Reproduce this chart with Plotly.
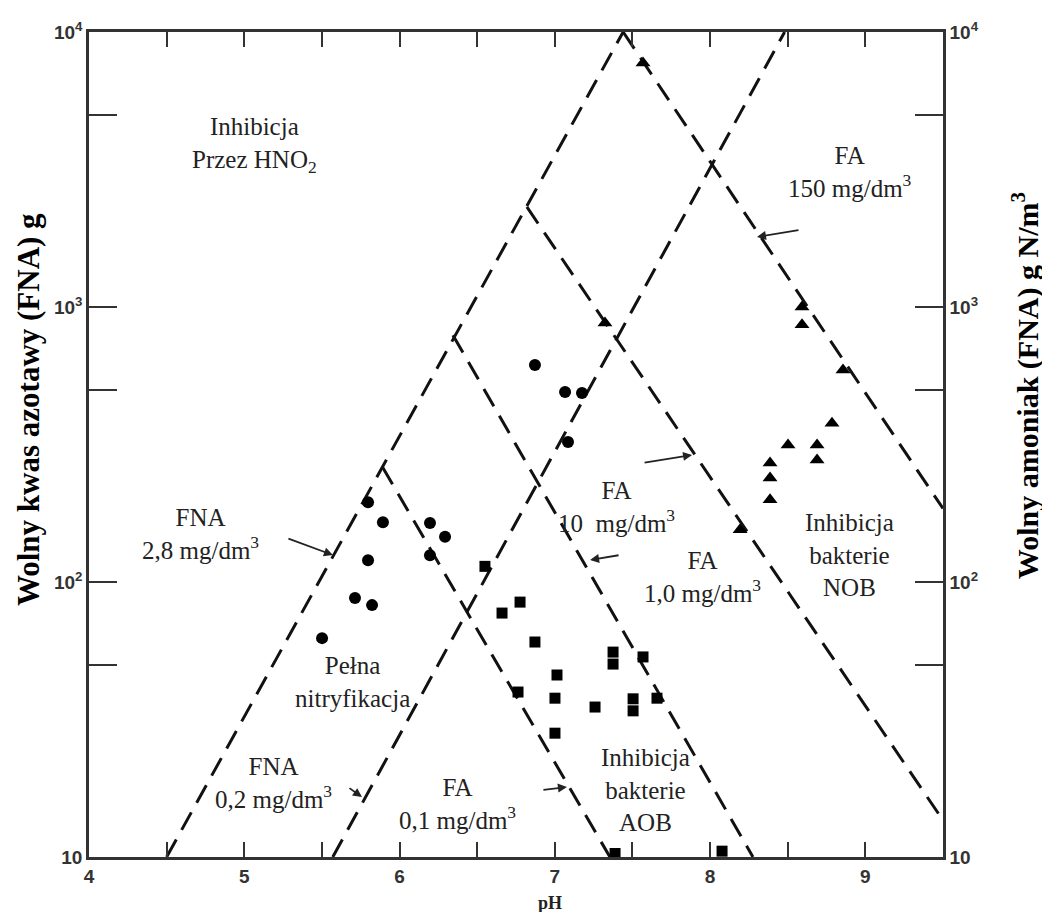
import plotly.graph_objects as go

# ---- data ----
# constant FNA lines (pH, value)
fna28_ph = [4.50, 7.44]
fna28_val = [10, 10000]
fna02_ph = [5.57, 8.48]
fna02_val = [10, 10000]
# constant FA lines
fa01_ph = [5.89, 7.355]
fa01_val = [262, 10]
fa1_ph = [6.344, 8.276]
fa1_val = [790, 10]
fa10_ph = [6.82, 9.5]
fa10_val = [2311, 13.6]
fa150_ph = [7.44, 9.5]
fa150_val = [10000, 185]

# circles
circ_ph = [6.872, 7.066, 7.175, 7.085, 5.797, 5.893, 6.196, 6.293, 6.196, 5.797, 5.713, 5.823, 5.501]
circ_val = [615, 491, 487, 323, 195, 165, 164, 146, 125, 120, 87.5, 82.4, 62.5]
# squares
sq_ph = [6.550, 6.660, 6.776, 6.872, 7.014, 6.763, 7.001, 7.001, 7.259, 7.375, 7.375, 7.568, 7.504, 7.504, 7.658, 7.388, 8.077]
sq_val = [114, 77.1, 84.5, 60.5, 45.9, 39.8, 37.8, 28.2, 35.1, 55.6, 50.3, 53.4, 37.6, 34.0, 37.8, 10.3, 10.5]
# triangles
tri_ph = [7.568, 7.323, 8.592, 8.592, 8.856, 8.785, 8.502, 8.689, 8.689, 8.386, 8.386, 8.386, 8.193]
tri_val = [7710, 875, 1000, 861, 590, 378, 315, 315, 278, 271, 239, 199, 155]

x_tickvals = [4, 4.5, 5, 5.5, 6, 6.5, 7, 7.5, 8, 8.5, 9, 9.5]
x_ticktext = ["4", "", "5", "", "6", "", "7", "", "8", "", "9", ""]
y_tickvals = [10, 50, 100, 500, 1000, 5000, 10000]
y_ticktext = ["10", "", "10<sup>2</sup>", "", "10<sup>3</sup>", "", "10<sup>4</sup>"]

LINE = dict(color="#111111", width=3, dash="20px,11px")

fig = go.Figure()
for xs, ys in [(fna28_ph, fna28_val), (fna02_ph, fna02_val), (fa01_ph, fa01_val),
               (fa1_ph, fa1_val), (fa10_ph, fa10_val), (fa150_ph, fa150_val)]:
    fig.add_trace(go.Scatter(x=xs, y=ys, mode="lines", line=LINE, showlegend=False, hoverinfo="skip"))

fig.add_trace(go.Scatter(x=circ_ph, y=circ_val, mode="markers",
                         marker=dict(symbol="circle", size=12, color="#000"), showlegend=False))
fig.add_trace(go.Scatter(x=sq_ph, y=sq_val, mode="markers",
                         marker=dict(symbol="square", size=11, color="#000"), showlegend=False))
fig.add_trace(go.Scatter(x=tri_ph, y=tri_val, mode="markers",
                         marker=dict(symbol="triangle-up", size=13, color="#000"), showlegend=False))
# invisible trace to activate right axis
fig.add_trace(go.Scatter(x=[4], y=[10], yaxis="y2", mode="markers",
                         marker=dict(opacity=0), showlegend=False, hoverinfo="skip"))

tickfont = dict(family="Liberation Sans", size=19, color="#333", weight="bold")
axcommon = dict(showgrid=False, zeroline=False, showline=True, linecolor="#333", linewidth=2.5,
                ticks="inside", tickcolor="#333", tickwidth=2, tickfont=tickfont)

fig.update_layout(
    width=1042, height=904,
    margin=dict(l=81, r=107, t=24, b=55, autoexpand=False),
    paper_bgcolor="white", plot_bgcolor="white",
    xaxis=dict(range=[4, 9.5], tickvals=x_tickvals, ticktext=x_ticktext, ticklen=15,
               mirror="ticks", automargin=False, **axcommon),
    yaxis=dict(type="log", range=[1, 4], tickvals=y_tickvals, ticktext=y_ticktext, ticklen=28,
               automargin=False, **axcommon),
    yaxis2=dict(type="log", range=[1, 4], tickvals=y_tickvals, ticktext=y_ticktext, ticklen=28,
                overlaying="y", side="right", automargin=False, **axcommon),
)

SERIF = dict(family="Liberation Serif", size=25, color="#222222")
labels = [
    ("Inhibicja<br>Przez HNO<sub>2</sub>", 5.069, 3.589),
    ("FA<br>150 mg/dm<sup>3</sup>", 8.901, 3.491),
    ("FNA<br>2,8 mg/dm<sup>3</sup>", 4.715, 2.175),
    ("FA<br>10  mg/dm<sup>3</sup>", 7.400, 2.273),
    ("FA<br>1,0 mg/dm<sup>3</sup>", 7.954, 2.018),
    ("Inhibicja<br>bakterie<br>NOB", 8.901, 2.098),
    ("Pełna<br>nitryfikacja", 5.694, 1.636),
    ("FNA<br>0,2 mg/dm<sup>3</sup>", 5.185, 1.269),
    ("FA<br>0,1 mg/dm<sup>3</sup>", 6.370, 1.193),
    ("Inhibicja<br>bakterie<br>AOB", 7.581, 1.244),
]
for t, x, y in labels:
    fig.add_annotation(text=t, x=x, y=y, xref="x", yref="y", showarrow=False, font=SERIF,
                       align="center", xanchor="center", yanchor="middle")

arrows = [  # head x (pH), head y (log10), tail offsets px
    (5.571, 2.098, -46, -17),
    (7.884, 2.462, -49, 8),
    (7.227, 2.080, 30, -5),
    (8.302, 3.255, 43, -7),
    (7.078, 1.2545, -25, 3),
    (5.758, 1.218, -14, -10),
]
for x, y, ax, ay in arrows:
    fig.add_annotation(x=x, y=y, xref="x", yref="y", ax=ax, ay=ay, text="", showarrow=True,
                       arrowhead=2, arrowsize=1, arrowwidth=1.8, arrowcolor="#222")

TITLE = dict(family="Liberation Serif", size=31, color="#000", weight="bold")
fig.add_annotation(text="Wolny kwas azotawy (FNA) g", x=-0.0714, y=0.5418, xref="paper", yref="paper",
                   textangle=-90, showarrow=False, font=TITLE, xanchor="center", yanchor="middle")
fig.add_annotation(text="Wolny amoniak (FNA) g N/m<sup>3</sup>", x=1.0975, y=0.571, xref="paper",
                   yref="paper", textangle=-90, showarrow=False,
                   font=dict(family="Liberation Serif", size=30, color="#000", weight="bold"),
                   xanchor="center", yanchor="middle")
fig.add_annotation(text="pH", x=0.54, y=-0.0558, xref="paper", yref="paper", showarrow=False,
                   font=dict(family="Liberation Serif", size=18, color="#222", weight="bold"),
                   xanchor="center", yanchor="middle")

fig.write_html("out.html")
